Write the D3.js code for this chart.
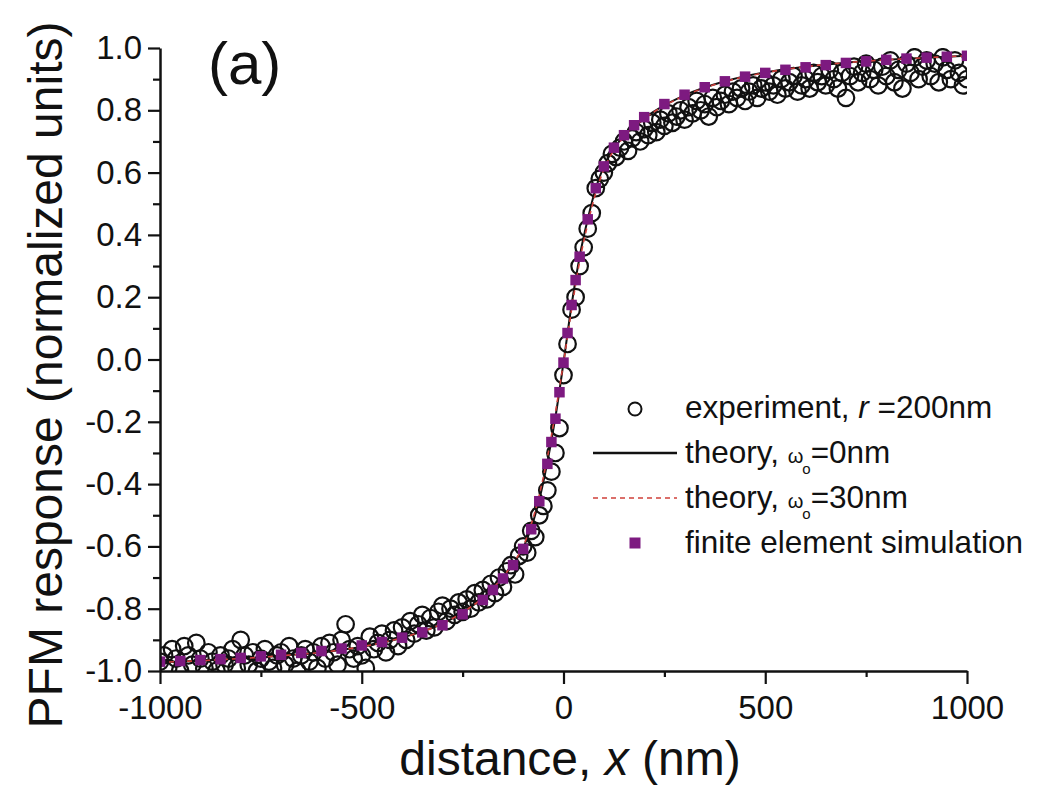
<!DOCTYPE html>
<html>
<head>
<meta charset="utf-8">
<script src="https://cdn.jsdelivr.net/npm/d3@7"></script>
<style>
  html, body { margin: 0; padding: 0; background: #fff; }
  svg { display: block; }
  text { font-family: "Liberation Sans", Arial, Helvetica, sans-serif; fill: #111; }
</style>
</head>
<body>
<svg id="chart" width="1051" height="786"></svg>
<script>
// ---------------- data ----------------
const xTicks = [-1000, -500, 0, 500, 1000];
const xMinorTicks = [-750, -250, 250, 750];
const yTicks = [-1.0, -0.8, -0.6, -0.4, -0.2, 0.0, 0.2, 0.4, 0.6, 0.8, 1.0];
const yMinorTicks = [-0.9, -0.7, -0.5, -0.3, -0.1, 0.1, 0.3, 0.5, 0.7, 0.9];

// experiment, r = 200 nm : x from -1000 to 1000 nm, 10 nm step
const expX = d3.range(-1000, 1001, 10);
const expY = [
  -0.97, -0.95, -0.99, -0.93, -0.96, -1.00, -0.92, -0.95, -0.98, -0.91,
  -0.96, -0.99, -0.94, -0.97, -1.00, -0.95, -0.98, -0.96, -0.93, -0.99,
  -0.90, -0.95, -0.98, -0.94, -1.00, -0.96, -0.93, -0.97, -0.99, -0.95,
  -0.94, -0.98, -0.92, -0.96, -1.00, -0.95, -0.93, -0.97, -0.94, -0.99,
  -0.92, -0.96, -0.91, -0.94, -0.98, -0.90, -0.85, -0.93, -0.96, -0.92,
  -0.95, -0.99, -0.89, -0.93, -0.91, -0.88, -0.94, -0.90, -0.87, -0.92,
  -0.86, -0.90, -0.84, -0.88, -0.85, -0.82, -0.87, -0.83, -0.86, -0.81,
  -0.79, -0.84, -0.80, -0.82, -0.78, -0.81, -0.77, -0.80, -0.75, -0.78,
  -0.74, -0.77, -0.72, -0.75, -0.70, -0.73, -0.68, -0.66, -0.69, -0.63,
  -0.60, -0.62, -0.55, -0.57, -0.50, -0.47, -0.42, -0.36, -0.30, -0.22,
  -0.05,  0.05,  0.16,  0.20,  0.30,  0.36,  0.42,  0.47,  0.55,  0.58,
   0.60,  0.63,  0.66,  0.65,  0.68,  0.70,  0.67,  0.71,  0.73,  0.70,
   0.74,  0.72,  0.76,  0.73,  0.77,  0.75,  0.79,  0.76,  0.78,  0.80,
   0.77,  0.81,  0.79,  0.83,  0.80,  0.82,  0.78,  0.84,  0.81,  0.83,
   0.85,  0.82,  0.86,  0.84,  0.87,  0.83,  0.86,  0.88,  0.84,  0.87,
   0.89,  0.86,  0.88,  0.85,  0.90,  0.87,  0.89,  0.91,  0.86,  0.88,
   0.90,  0.87,  0.92,  0.89,  0.91,  0.88,  0.93,  0.90,  0.87,  0.92,
   0.84,  0.91,  0.94,  0.89,  0.92,  0.95,  0.90,  0.93,  0.88,  0.94,
   0.91,  0.96,  0.89,  0.93,  0.87,  0.95,  0.92,  0.97,  0.90,  0.94,
   0.96,  0.91,  0.95,  0.89,  0.97,  0.93,  0.90,  0.96,  0.92,  0.88,
   0.90
];

// theory, w0 = 0 nm
const theoryX = [-1000,-900,-800,-700,-600,-500,-400,-300,-250,-200,-150,-120,-100,-80,-60,-40,-20,0,
                 20,40,60,80,100,120,150,200,250,300,400,500,600,700,800,900,1000];
const theory0Y = [-0.972,-0.967,-0.960,-0.951,-0.940,-0.922,-0.893,-0.848,-0.812,-0.765,-0.700,-0.648,-0.605,-0.540,-0.450,-0.330,-0.185,-0.010,
                  0.175,0.330,0.450,0.550,0.620,0.668,0.718,0.775,0.816,0.848,0.893,0.922,0.940,0.953,0.962,0.969,0.975];
// theory, w0 = 30 nm
const theory30Y = [-0.972,-0.967,-0.960,-0.951,-0.940,-0.922,-0.893,-0.848,-0.812,-0.765,-0.698,-0.645,-0.600,-0.530,-0.435,-0.315,-0.170,-0.010,
                   0.160,0.315,0.435,0.535,0.610,0.662,0.715,0.773,0.815,0.847,0.892,0.921,0.940,0.953,0.962,0.969,0.975];

// finite element simulation
const femX = [-1000,-950,-900,-850,-800,-750,-700,-650,-600,-550,-500,-450,-400,-350,-300,-250,-200,-175,-150,-125,-100,-80,-60,-40,-30,-20,-10,0,
              10,20,30,40,60,80,100,125,150,175,200,250,300,350,400,450,500,550,600,650,700,750,800,850,900,950,1000];
const femY = [-0.970,-0.968,-0.965,-0.962,-0.958,-0.953,-0.948,-0.942,-0.936,-0.928,-0.918,-0.907,-0.893,-0.876,-0.853,-0.818,-0.772,-0.740,-0.703,-0.660,-0.608,-0.545,-0.455,-0.335,-0.265,-0.190,-0.105,-0.010,
              0.085,0.175,0.255,0.330,0.450,0.550,0.620,0.680,0.720,0.752,0.778,0.820,0.850,0.874,0.893,0.908,0.920,0.930,0.938,0.945,0.952,0.957,0.962,0.966,0.969,0.972,0.975];

// ---------------- drawing ----------------
const svg = d3.select("#chart");
const x = d3.scaleLinear().domain([-1000, 1000]).range([160, 967]);
const y = d3.scaleLinear().domain([-1, 1]).range([671, 48]);

svg.append("defs").append("clipPath").attr("id", "plotclip")
  .append("rect").attr("x", 160).attr("y", 48).attr("width", 807).attr("height", 623);

const plot = svg.append("g").attr("clip-path", "url(#plotclip)");

// experiment circles
plot.append("g").selectAll("circle")
  .data(expX.map((d, i) => [d, expY[i]]))
  .join("circle")
  .attr("cx", d => x(d[0])).attr("cy", d => y(d[1]))
  .attr("r", 8.3)
  .attr("fill", "none").attr("stroke", "#111").attr("stroke-width", 2.2);

const line = d3.line().curve(d3.curveMonotoneX).x(d => x(d[0])).y(d => y(d[1]));

plot.append("path").datum(theoryX.map((d, i) => [d, theory0Y[i]]))
  .attr("d", line).attr("fill", "none").attr("stroke", "#111").attr("stroke-width", 2);
plot.append("path").datum(theoryX.map((d, i) => [d, theory30Y[i]]))
  .attr("d", line).attr("fill", "none").attr("stroke", "#d0403a").attr("stroke-width", 1.6)
  .attr("stroke-dasharray", "5,4");

// FEM squares
const sq = 10.5;
plot.append("g").selectAll("rect")
  .data(femX.map((d, i) => [d, femY[i]]))
  .join("rect")
  .attr("x", d => x(d[0]) - sq / 2).attr("y", d => y(d[1]) - sq / 2)
  .attr("width", sq).attr("height", sq)
  .attr("fill", "#7d1a80");

// axes
function styleAxis(g) {
  g.select(".domain").attr("stroke", "#111").attr("stroke-width", 2.5);
  g.selectAll(".tick line").attr("stroke", "#111").attr("stroke-width", 2.2);
  g.selectAll(".tick text").style("font-family", '"Liberation Sans", Arial, sans-serif')
    .style("font-size", "33px").attr("fill", "#111");
}

const xAxis = svg.append("g").attr("transform", "translate(0,671)")
  .call(d3.axisBottom(x).tickValues(xTicks).tickFormat(d => String(d))
    .tickSize(13).tickPadding(12).tickSizeOuter(0));
styleAxis(xAxis);
const xMinor = svg.append("g").attr("transform", "translate(0,671)")
  .call(d3.axisBottom(x).tickValues(xMinorTicks).tickFormat("").tickSize(6).tickSizeOuter(0));
styleAxis(xMinor);
xMinor.select(".domain").remove();

const yAxis = svg.append("g").attr("transform", "translate(160,0)")
  .call(d3.axisLeft(y).tickValues(yTicks).tickFormat(d => d.toFixed(1))
    .tickSize(12).tickPadding(6).tickSizeOuter(0));
styleAxis(yAxis);
const yMinor = svg.append("g").attr("transform", "translate(160,0)")
  .call(d3.axisLeft(y).tickValues(yMinorTicks).tickFormat("").tickSize(7).tickSizeOuter(0));
styleAxis(yMinor);
yMinor.select(".domain").remove();

// axis titles
const xt = svg.append("text").attr("x", 570).attr("y", 775).attr("text-anchor", "middle")
  .style("font-size", "48px");
xt.append("tspan").text("distance, ");
xt.append("tspan").style("font-style", "italic").text("x");
xt.append("tspan").text(" (nm)");

svg.append("text").attr("transform", "translate(62,375) rotate(-90)")
  .attr("text-anchor", "middle").style("font-size", "48px")
  .text("PFM response (normalized units)");

// panel label
svg.append("text").attr("x", 208).attr("y", 84).style("font-size", "60px").text("(a)");

// legend
const lg = svg.append("g");
const lx = 685, fs = 31.5;
const rows = [418, 463, 508, 553];

lg.append("circle").attr("cx", 635).attr("cy", rows[0] - 9).attr("r", 6.5)
  .attr("fill", "none").attr("stroke", "#111").attr("stroke-width", 2);
const t1 = lg.append("text").attr("x", lx).attr("y", rows[0]).style("font-size", fs + "px");
t1.append("tspan").text("experiment, ");
t1.append("tspan").style("font-style", "italic").text("r");
t1.append("tspan").text(" =200nm");

lg.append("line").attr("x1", 593).attr("x2", 677).attr("y1", rows[1] - 10).attr("y2", rows[1] - 10)
  .attr("stroke", "#111").attr("stroke-width", 2.5);
function omegaLabel(yy, val) {
  const t = lg.append("text").attr("x", lx).attr("y", yy).style("font-size", fs + "px");
  t.append("tspan").text("theory, ");
  t.append("tspan").style("font-size", "20px").text("ω");
  t.append("tspan").style("font-size", "15px").attr("dy", 11).attr("dx", -1).text("o");
  t.append("tspan").attr("dy", -11).text("=" + val);
}
omegaLabel(rows[1], "0nm");

lg.append("line").attr("x1", 593).attr("x2", 677).attr("y1", rows[2] - 10).attr("y2", rows[2] - 10)
  .attr("stroke", "#d0403a").attr("stroke-width", 1.6).attr("stroke-dasharray", "5,4");
omegaLabel(rows[2], "30nm");

lg.append("rect").attr("x", 635 - 5.5).attr("y", rows[3] - 10 - 5.5).attr("width", 11).attr("height", 11)
  .attr("fill", "#7d1a80");
lg.append("text").attr("x", lx).attr("y", rows[3]).style("font-size", fs + "px")
  .text("finite element simulation");
</script>
</body>
</html>
